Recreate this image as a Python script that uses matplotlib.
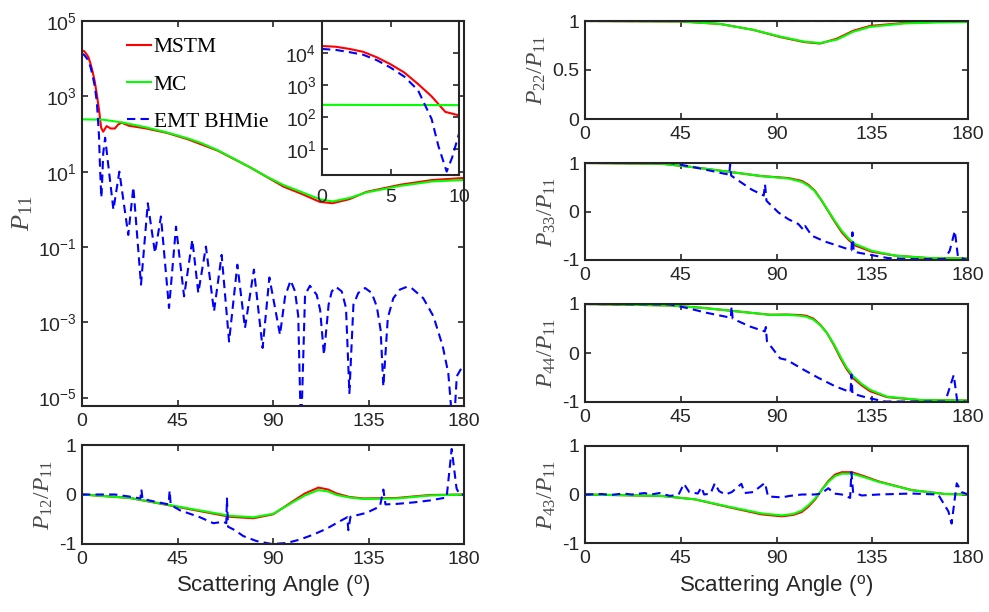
import numpy as np
import matplotlib
matplotlib.use("Agg")
import matplotlib.pyplot as plt
from matplotlib.ticker import FuncFormatter, LogLocator, NullFormatter, NullLocator

# ---- data ------------------------------------------------------------------
# P11 (log axis); forward region shared by main plot and inset
mstm_p11_angle = [0, 1, 2, 3, 4, 5, 6, 7, 8, 9, 10, 11.6, 13.5, 15.5, 17, 18.7,
                  22, 30, 40, 50, 64, 79, 95, 104, 112, 118, 126, 134, 150, 165, 180]
mstm_p11 = [1.66e4, 1.58e4, 1.35e4, 1.1e4, 7.4e3, 4.5e3, 2.5e3, 1.1e3, 450, 148, 115,
            162, 140, 140, 178, 200, 166, 141, 107, 72, 36, 13.2, 4.0, 2.5, 1.58, 1.45,
            1.86, 2.9, 4.5, 6.0, 6.8]

mc_p11_angle = [0, 10, 19.5, 30, 40, 50, 56, 64, 71, 79, 87, 95, 103, 112, 118, 126,
                134, 150, 165, 180]
mc_p11 = [245, 240, 200, 151, 110, 76, 58, 37, 23, 13.2, 7.4, 4.4, 2.95, 1.86, 1.62,
          2.0, 2.8, 4.2, 5.5, 6.0]

emt_p11_angle = [0, 1, 2, 3, 4, 5, 6, 7, 7.5, 8, 8.5, 9.1, 9.5, 10, 10.9, 14.8, 17.6,
                 21.8, 24.2, 27.8, 31.0, 34.4, 37.2, 41.0, 44.3, 48.1, 52.0, 54.8, 58.4,
                 62.2, 65.8, 69.3, 73.2, 76.8, 81.0, 85.1, 88.3, 93.3, 95.7, 98.3, 100.4,
                 101.9, 103.2, 105.1, 107.4, 110.6, 112.2, 114.0, 116.2, 117.7, 119.7,
                 122.4, 124.4, 126.0, 127.9, 130.2, 133.4, 136.5, 138.9, 140.7, 142.0,
                 144.1, 146.7, 149.8, 153.0, 155.3, 160.8, 165.6, 170.0, 172.6, 175.0,
                 176.6, 180]
emt_p11_log = [4.13, 4.10, 4.03, 3.95, 3.78, 3.55, 3.27, 2.85, 2.4, 1.95, 1.1, 0.31,
               0.75, 1.49, 1.9, -0.01, 1.0, -0.68, 0.59, -2.0, 0.16, -1.16, -0.19, -2.62,
               -0.46, -2.31, -0.81, -2.22, -0.99, -2.71, -1.21, -3.51, -1.47, -3.15, -1.60,
               -3.68, -1.81, -3.33, -2.31, -1.89, -2.18, -2.84, -6.0, -2.27, -2.03, -2.27,
               -2.67, -3.86, -2.53, -2.18, -2.06, -2.18, -2.62, -4.88, -2.53, -2.22, -2.09,
               -2.22, -2.58, -3.2, -4.70, -2.88, -2.36, -2.13, -2.06, -2.09, -2.36, -2.84,
               -3.64, -4.35, -6.0, -4.43, -4.1]

# P12/P11
mstm_p12_angle = [0, 22.6, 46.2, 69.7, 80.7, 90.1, 99.6, 105, 111.4, 116, 120, 126, 132.6,
                  148.3, 164, 180]
mstm_p12 = [0, -0.07, -0.26, -0.45, -0.48, -0.40, -0.13, 0.02, 0.14, 0.10, 0.02, -0.05,
            -0.08, -0.07, -0.01, 0]
mc_p12_angle = [0, 22.6, 46.2, 69.7, 80.7, 90.1, 99.6, 105, 111.4, 116, 120, 126, 132.6,
                148.3, 164, 180]
mc_p12 = [0, -0.07, -0.25, -0.43, -0.46, -0.39, -0.15, -0.02, 0.09, 0.06, -0.01, -0.06,
          -0.09, -0.08, -0.02, 0]
emt_p12_angle = [0, 15.4, 22, 27.5, 28, 28.5, 35, 40.8, 41.3, 41.8, 46.2, 55.6, 61.9, 66.6,
                 68.0, 68.3, 68.8, 72, 76, 82.2, 89.4, 96.4, 102.7, 109, 115.3, 121.5, 125,
                 125.5, 126.5, 134.1, 140.4, 142, 143, 148.3, 156.2, 164, 171.8, 174.2,
                 176.5, 178, 180]
emt_p12 = [0, 0, -0.04, -0.08, 0.1, -0.09, -0.15, -0.2, 0.08, -0.21, -0.32, -0.46, -0.58,
           -0.55, -0.58, -0.08, -0.65, -0.72, -0.84, -0.94, -1.0, -0.98, -0.91, -0.81, -0.69,
           -0.54, -0.46, -0.72, -0.45, -0.37, -0.24, 0.1, -0.2, -0.19, -0.16, -0.12, -0.06,
           0.92, 0.12, 0.0, 0]

# P22/P11
mstm_p22_angle = [0, 45, 63.5, 79, 92, 103, 110.5, 118.4, 126, 134, 150, 165, 180]
mstm_p22 = [1, 0.995, 0.97, 0.91, 0.835, 0.785, 0.77, 0.82, 0.90, 0.95, 0.98, 0.99, 0.99]
mc_p22_angle = [0, 45, 63.5, 79, 92, 103, 110.5, 118.4, 126, 134, 150, 165, 180]
mc_p22 = [1, 0.995, 0.97, 0.91, 0.84, 0.79, 0.775, 0.81, 0.89, 0.94, 0.975, 0.985, 0.99]
emt_p22_angle = [0, 180]
emt_p22 = [1, 1]

# P33/P11
mstm_p33_angle = [0, 36, 51.7, 67.4, 83, 95.6, 101.9, 105, 108, 111, 114.4, 117.5, 120.7,
                  124, 126.9, 134.8, 145.8, 161.5, 180]
mstm_p33 = [1, 0.985, 0.91, 0.82, 0.73, 0.69, 0.63, 0.55, 0.43, 0.24, 0.0, -0.22, -0.43,
            -0.59, -0.70, -0.83, -0.91, -0.96, -0.97]
mc_p33_angle = [0, 36, 51.7, 67.4, 83, 95.6, 101.9, 105, 108, 111, 114.4, 117.5, 120.7,
                124, 126.9, 134.8, 145.8, 161.5, 180]
mc_p33 = [1, 0.985, 0.91, 0.82, 0.73, 0.68, 0.61, 0.53, 0.42, 0.24, 0.01, -0.2, -0.40,
          -0.56, -0.67, -0.81, -0.91, -0.96, -0.97]
emt_p33_angle = [0, 40, 45.5, 54.9, 64.3, 67.8, 68.2, 68.7, 73.7, 78.4, 84, 84.6, 85.3,
                 90.9, 95.6, 100.3, 102.7, 103.5, 106.6, 112.8, 119.1, 125.2, 125.7, 126.3,
                 129.8, 136.1, 142.4, 153.4, 169, 171.4, 173.8, 175.3, 180]
emt_p33 = [1, 1.0, 0.96, 0.88, 0.79, 0.76, 0.97, 0.74, 0.59, 0.45, 0.33, 0.56, 0.22, -0.02,
           -0.16, -0.26, -0.38, -0.3, -0.5, -0.62, -0.71, -0.8, -0.43, -0.83, -0.86, -0.91,
           -0.96, -0.98, -0.98, -0.81, -0.4, -0.94, -1.0]

# P44/P11
mstm_p44_angle = [0, 40, 55.6, 71.3, 87, 94.8, 101, 104, 107.4, 110.5, 113.7, 117, 120,
                  123, 126.2, 130, 134, 141.9, 157.6, 180]
mstm_p44 = [1, 0.97, 0.92, 0.85, 0.78, 0.785, 0.775, 0.76, 0.70, 0.58, 0.41, 0.16, -0.10,
            -0.33, -0.52, -0.66, -0.78, -0.9, -0.96, -0.97]
mc_p44_angle = [0, 40, 55.6, 71.3, 87, 94.8, 101, 104, 107.4, 110.5, 113.7, 117, 120,
                123, 126.2, 130, 134, 141.9, 157.6, 180]
mc_p44 = [1, 0.97, 0.92, 0.85, 0.78, 0.78, 0.76, 0.74, 0.68, 0.57, 0.41, 0.18, -0.07,
          -0.3, -0.48, -0.63, -0.75, -0.89, -0.96, -0.97]
emt_p44_angle = [0, 40, 47.8, 57.2, 68.5, 68.9, 69.4, 77.6, 84.5, 85, 85.5, 91.7, 94.8,
                 102.7, 109.8, 117.6, 124.8, 125.2, 125.7, 133.3, 141.1, 169.3, 173.3,
                 174.9, 180]
emt_p44 = [1, 0.99, 0.92, 0.82, 0.72, 0.95, 0.70, 0.54, 0.44, 0.53, 0.24, -0.11, -0.14,
           -0.34, -0.51, -0.68, -0.8, -0.44, -0.83, -0.92, -0.99, -0.99, -0.45, -0.97, -1.0]

# P43/P11
mstm_p43_angle = [0, 36, 51.7, 67.4, 83, 92.5, 98, 101.9, 105, 108.2, 111, 114.4, 117.5,
                  120.7, 125.4, 131, 138, 153.6, 169.3, 180]
mstm_p43 = [0, -0.03, -0.1, -0.26, -0.41, -0.45, -0.42, -0.36, -0.25, -0.1, 0.08, 0.28,
            0.41, 0.46, 0.46, 0.38, 0.27, 0.09, 0.01, 0]
mc_p43_angle = [0, 36, 51.7, 67.4, 83, 92.5, 98, 101.9, 105, 108.2, 111, 114.4, 117.5,
                120.7, 125.4, 131, 138, 153.6, 169.3, 180]
mc_p43 = [0, -0.03, -0.1, -0.25, -0.39, -0.43, -0.4, -0.33, -0.22, -0.08, 0.08, 0.26,
          0.38, 0.43, 0.43, 0.36, 0.26, 0.09, 0.01, 0]
emt_p43_angle = [0, 8, 12, 18, 22, 28, 31, 35, 40, 44, 46.5, 49, 53, 54.7, 56, 59, 61, 63,
                 66, 69, 73.5, 75, 79, 84.6, 86, 92.5, 96, 102, 108, 111, 114.4, 117,
                 120.7, 124.6, 125.2, 126, 130, 138, 153.6, 166, 170.8, 172.3, 174.7, 177,
                 180]
emt_p43 = [0, 0.01, -0.01, 0.02, 0.0, 0.03, 0.0, 0.03, -0.03, 0.0, 0.22, 0.05, 0.02, 0.15,
           0.0, 0.02, 0.23, 0.07, 0.0, 0.05, 0.22, 0.03, 0.05, 0.24, -0.04, -0.06, -0.03,
           0.0, 0.0, 0.02, 0.13, 0.02, 0.0, -0.07, 0.46, 0.05, -0.02, 0.0, 0.02, 0.0, -0.35,
           -0.6, 0.23, 0.05, 0]

xticks = [0, 45, 90, 135, 180]
labels = ["MSTM", "MC", "EMT BHMie"]

# ---- style ------------------------------------------------------------------
plt.rcParams.update({
    "font.family": ["Liberation Sans", "DejaVu Sans"],
    "font.size": 14,
    "mathtext.fontset": "custom",
    "mathtext.rm": "Liberation Serif",
    "mathtext.it": "Liberation Serif:italic",
    "mathtext.sf": "Liberation Sans",
    "axes.unicode_minus": False,
    "axes.linewidth": 1.5,
    "axes.edgecolor": "#262626",
    "xtick.direction": "in",
    "ytick.direction": "in",
    "xtick.top": True,
    "ytick.right": True,
    "xtick.major.size": 4,
    "ytick.major.size": 4,
    "xtick.major.width": 1.2,
    "ytick.major.width": 1.2,
    "xtick.color": "#262626",
    "ytick.color": "#262626",
    "xtick.labelcolor": "#262626",
    "ytick.labelcolor": "#262626",
    "xtick.major.pad": 5,
    "ytick.major.pad": 4,
})

RED, GREEN, BLUE = (1, 0, 0), (0, 1, 0), (0, 0, 1)
LW = 1.5
DASH = (4, 2.5)
W, H = 989, 612


def rect(l, t, r, b):
    return [l / W, 1 - b / H, (r - l) / W, (b - t) / H]


def log_fmt(v, pos):
    return r"$\mathsf{10^{%d}}$" % int(round(np.log10(v)))


def draw(ax, mstm, mc, emt):
    ax.plot(*mstm, color=RED, lw=LW, label=labels[0])
    ax.plot(*mc, color=GREEN, lw=LW, label=labels[1])
    ax.plot(*emt, color=BLUE, lw=LW, dashes=DASH, label=labels[2])


def ratio_panel(ax, mstm, mc, emt, ylabel, ylim=(-1, 1), yticks=(-1, 0, 1)):
    draw(ax, mstm, mc, emt)
    ax.set_xlim(0, 180)
    ax.set_ylim(*ylim)
    ax.set_xticks(xticks)
    ax.set_yticks(list(yticks))
    ax.set_yticklabels([("%g" % v) for v in yticks])
    ax.set_ylabel(ylabel, fontsize=17, color="#4a4a4a", labelpad=3)


fig = plt.figure(figsize=(W / 100, H / 100), dpi=100)

emt_p11 = [10.0 ** v for v in emt_p11_log]
p11_sets = ((mstm_p11_angle, mstm_p11), (mc_p11_angle, mc_p11), (emt_p11_angle, emt_p11))

# main P11
ax = fig.add_axes(rect(82, 21, 464, 406))
draw(ax, *p11_sets)
ax.set_yscale("log")
ax.set_xlim(0, 180)
ax.set_ylim(6e-6, 1e5)
ax.set_xticks(xticks)
ax.set_yticks([1e-5, 1e-3, 1e-1, 1e1, 1e3, 1e5])
ax.yaxis.set_major_formatter(FuncFormatter(log_fmt))
ax.yaxis.set_minor_locator(NullLocator())
ax.set_ylabel(r"$P_{11}$", fontsize=19, color="#4a4a4a", labelpad=2)
ax.legend(loc="upper left", bbox_to_anchor=(0.095, 0.98), frameon=False,
          prop={"family": "Liberation Serif", "size": 15.5},
          handlelength=1.1, handletextpad=0.15, labelspacing=0.8, borderaxespad=0)

# inset
ins = fig.add_axes(rect(322, 21, 459, 175))
draw(ins, *p11_sets)
ins.set_yscale("log")
ins.set_xlim(0, 10)
ins.set_ylim(1.6, 1e5)
ins.set_xticks([0, 5, 10])
ins.set_yticks([1e1, 1e2, 1e3, 1e4])
ins.yaxis.set_major_formatter(FuncFormatter(log_fmt))
ins.yaxis.set_minor_locator(LogLocator(subs=np.arange(2, 10)))
ins.yaxis.set_minor_formatter(NullFormatter())
ins.tick_params(axis="y", which="minor", length=2, width=0.8)
ins.tick_params(axis="x", pad=10)

# P12
ax = fig.add_axes(rect(82, 445, 464, 544))
ratio_panel(ax, (mstm_p12_angle, mstm_p12), (mc_p12_angle, mc_p12),
            (emt_p12_angle, emt_p12), r"$P_{12}/P_{11}$")
ax.set_xlabel(r"Scattering Angle ($^{\mathsf{o}}$)", fontsize=16, color="#262626")

# right column
ax = fig.add_axes(rect(585, 21, 968, 119))
ratio_panel(ax, (mstm_p22_angle, mstm_p22), (mc_p22_angle, mc_p22),
            (emt_p22_angle, emt_p22), r"$P_{22}/P_{11}$", ylim=(0, 1), yticks=(0, 0.5, 1))

ax = fig.add_axes(rect(585, 163, 968, 260))
ratio_panel(ax, (mstm_p33_angle, mstm_p33), (mc_p33_angle, mc_p33),
            (emt_p33_angle, emt_p33), r"$P_{33}/P_{11}$")

ax = fig.add_axes(rect(585, 304, 968, 402))
ratio_panel(ax, (mstm_p44_angle, mstm_p44), (mc_p44_angle, mc_p44),
            (emt_p44_angle, emt_p44), r"$P_{44}/P_{11}$")

ax = fig.add_axes(rect(585, 446, 968, 543))
ratio_panel(ax, (mstm_p43_angle, mstm_p43), (mc_p43_angle, mc_p43),
            (emt_p43_angle, emt_p43), r"$P_{43}/P_{11}$")
ax.set_xlabel(r"Scattering Angle ($^{\mathsf{o}}$)", fontsize=16, color="#262626")

fig.savefig("out.png", dpi=100, facecolor="white")
